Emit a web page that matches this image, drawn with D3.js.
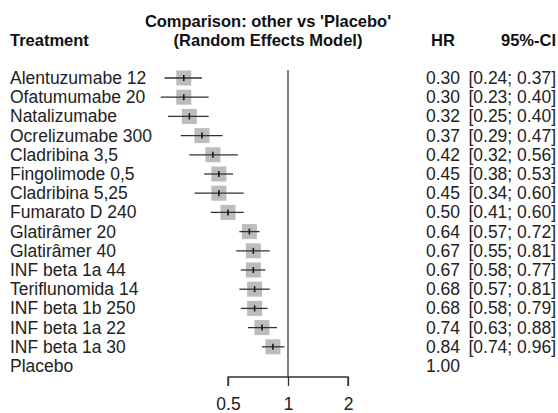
<!DOCTYPE html>
<html>
<head>
<meta charset="utf-8">
<script src="https://cdn.jsdelivr.net/npm/d3@7"></script>
<style>
  html, body { margin: 0; padding: 0; background: #fff; }
  svg { display: block; font-family: "Liberation Sans", Arial, Helvetica, sans-serif; }
</style>
</head>
<body>
<svg id="chart"></svg>
<script>
const treatments = ["Alentuzumabe 12", "Ofatumumabe 20", "Natalizumabe", "Ocrelizumabe 300",
  "Cladribina 3,5", "Fingolimode 0,5", "Cladribina 5,25", "Fumarato D 240", "Glatirâmer 20",
  "Glatirâmer 40", "INF beta 1a 44", "Teriflunomida 14", "INF beta 1b 250", "INF beta 1a 22",
  "INF beta 1a 30", "Placebo"];
const hr    = [0.30, 0.30, 0.32, 0.37, 0.42, 0.45, 0.45, 0.50, 0.64, 0.67, 0.67, 0.68, 0.68, 0.74, 0.84, 1.00];
const lower = [0.24, 0.23, 0.25, 0.29, 0.32, 0.38, 0.34, 0.41, 0.57, 0.55, 0.58, 0.57, 0.58, 0.63, 0.74, null];
const upper = [0.37, 0.40, 0.40, 0.47, 0.56, 0.53, 0.60, 0.60, 0.72, 0.81, 0.77, 0.81, 0.79, 0.88, 0.96, null];
const xTicks = [0.5, 1, 2];

const width = 558, height = 413;
const svg = d3.select("#chart").attr("width", width).attr("height", height);

const x = d3.scaleLog().domain([0.5, 2]).range([228, 348]);
const y = d3.scalePoint().domain(d3.range(treatments.length)).range([78, 78 + 15 * 19.2]);
const axisY = 377;
const fmt = d3.format(".2f");

// headers
const head = svg.append("g").style("font-weight", "bold").style("font-size", "16.5px").attr("fill", "#111");
head.append("text").attr("x", 10).attr("y", 46).text("Treatment");
head.append("text").attr("x", 268).attr("y", 27).attr("text-anchor", "middle").text("Comparison: other vs 'Placebo'");
head.append("text").attr("x", 268).attr("y", 46).attr("text-anchor", "middle").text("(Random Effects Model)");
head.append("text").attr("x", 443).attr("y", 46).attr("text-anchor", "middle").text("HR");
head.append("text").attr("x", 556).attr("y", 46).attr("text-anchor", "end").text("95%-CI");

// reference line at HR = 1
svg.append("line")
  .attr("x1", x(1)).attr("x2", x(1))
  .attr("y1", 70).attr("y2", axisY)
  .attr("stroke", "#555").attr("stroke-width", 1.5);

// rows
const rows = svg.selectAll(".row")
  .data(treatments.map((t, i) => ({ t, hr: hr[i], lo: lower[i], hi: upper[i], i })))
  .enter().append("g").attr("class", "row");

rows.append("text")
  .attr("x", 10).attr("y", d => y(d.i) + 6)
  .style("font-size", "17.5px").attr("fill", "#222")
  .text(d => d.t);

const est = rows.filter(d => d.lo != null);
est.append("rect")
  .attr("x", d => x(d.hr) - 7.5).attr("y", d => y(d.i) - 7.5)
  .attr("width", 15).attr("height", 15)
  .attr("fill", "#bcbcbc");
est.append("line")
  .attr("x1", d => x(d.lo)).attr("x2", d => x(d.hi))
  .attr("y1", d => y(d.i)).attr("y2", d => y(d.i))
  .attr("stroke", "#333").attr("stroke-width", 1.3);
est.append("line")
  .attr("x1", d => x(d.hr)).attr("x2", d => x(d.hr))
  .attr("y1", d => y(d.i) - 3).attr("y2", d => y(d.i) + 3)
  .attr("stroke", "#111").attr("stroke-width", 1.5);

rows.append("text")
  .attr("x", 460).attr("y", d => y(d.i) + 6)
  .attr("text-anchor", "end")
  .style("font-size", "17.5px").attr("fill", "#222")
  .text(d => fmt(d.hr));
est.append("text")
  .attr("x", 556).attr("y", d => y(d.i) + 6)
  .attr("text-anchor", "end")
  .style("font-size", "17.5px").attr("fill", "#222")
  .text(d => "[" + fmt(d.lo) + "; " + fmt(d.hi) + "]");

// x axis
const axis = svg.append("g")
  .attr("transform", "translate(0," + axisY + ")")
  .call(d3.axisBottom(x).tickValues(xTicks).tickFormat(d3.format("")).tickSize(9).tickPadding(12));
axis.select(".domain").attr("stroke", "#333").attr("stroke-width", 1.3)
  .attr("d", "M" + x(0.5) + ",9V0H" + x(2) + "V9");
axis.selectAll(".tick line").attr("stroke", "#333").attr("stroke-width", 1.3);
axis.selectAll(".tick text").style("font-size", "17.5px").attr("fill", "#222")
  .style("font-family", "'Liberation Sans', Arial, sans-serif");
</script>
</body>
</html>
